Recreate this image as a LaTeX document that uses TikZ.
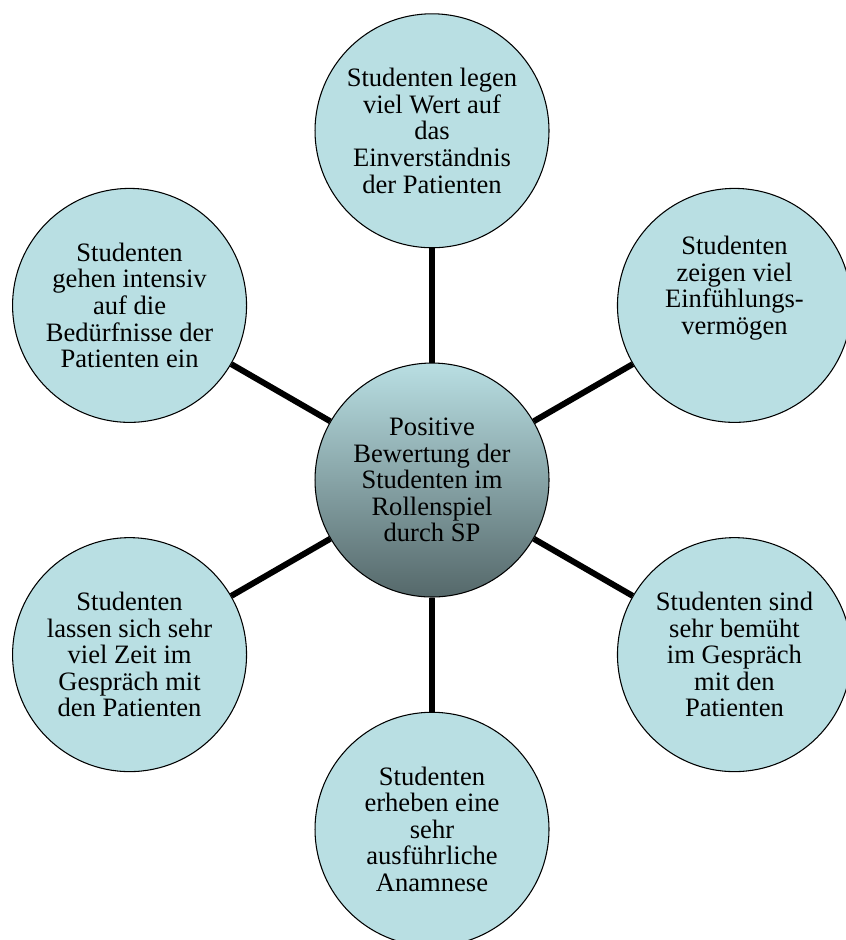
\documentclass[tikz,border=0pt]{standalone}
\usepackage{fontspec}
\setmainfont{Liberation Serif}
\definecolor{bubblefill}{HTML}{B9DFE3}
\definecolor{hubdark}{HTML}{55686A}
\begin{document}
\begin{tikzpicture}[
    bubble/.style={circle, draw, line width=0.8pt, fill=bubblefill, minimum size=6.19cm,
        inner sep=0pt, align=center, font=\fontsize{20}{20}\selectfont},
    hub/.style={bubble, top color=bubblefill, bottom color=hubdark},
    spoke/.style={line width=4.5pt}
]
    % Fix the page to the size of the original picture
    \useasboundingbox (-11.43,-12.17) rectangle (10.93,12.70);

    % Central circle with the overall rating
    \node[hub] (hub) at (0,0) {Positive\\Bewertung der\\Studenten im\\Rollenspiel\\durch SP};

    % Outer circles, one every 60 degrees
    \node[bubble] (einverst) at (90:9.24) {Studenten legen\\viel Wert auf\\das\\Einverständnis\\der Patienten};
    \node[bubble, text depth=30pt] (einfuehl) at (30:9.24) {Studenten\\zeigen viel\\Einfühlungs-\\vermögen};
    \node[bubble] (bemueht) at (-30:9.24) {Studenten sind\\sehr bemüht\\im Gespräch\\mit den\\Patienten};
    \node[bubble] (anamnese) at (-90:9.24) {Studenten\\erheben eine\\sehr\\ausführliche\\Anamnese};
    \node[bubble] (zeit) at (-150:9.24) {Studenten\\lassen sich sehr\\viel Zeit im\\Gespräch mit\\den Patienten};
    \node[bubble] (beduerf) at (150:9.24) {Studenten\\gehen intensiv\\auf die\\Bedürfnisse der\\Patienten ein};

    % Spokes from the centre to each outer circle
    \foreach \n in {einverst,einfuehl,bemueht,anamnese,zeit,beduerf}
        \draw[spoke] (hub) -- (\n);
\end{tikzpicture}
\end{document}
